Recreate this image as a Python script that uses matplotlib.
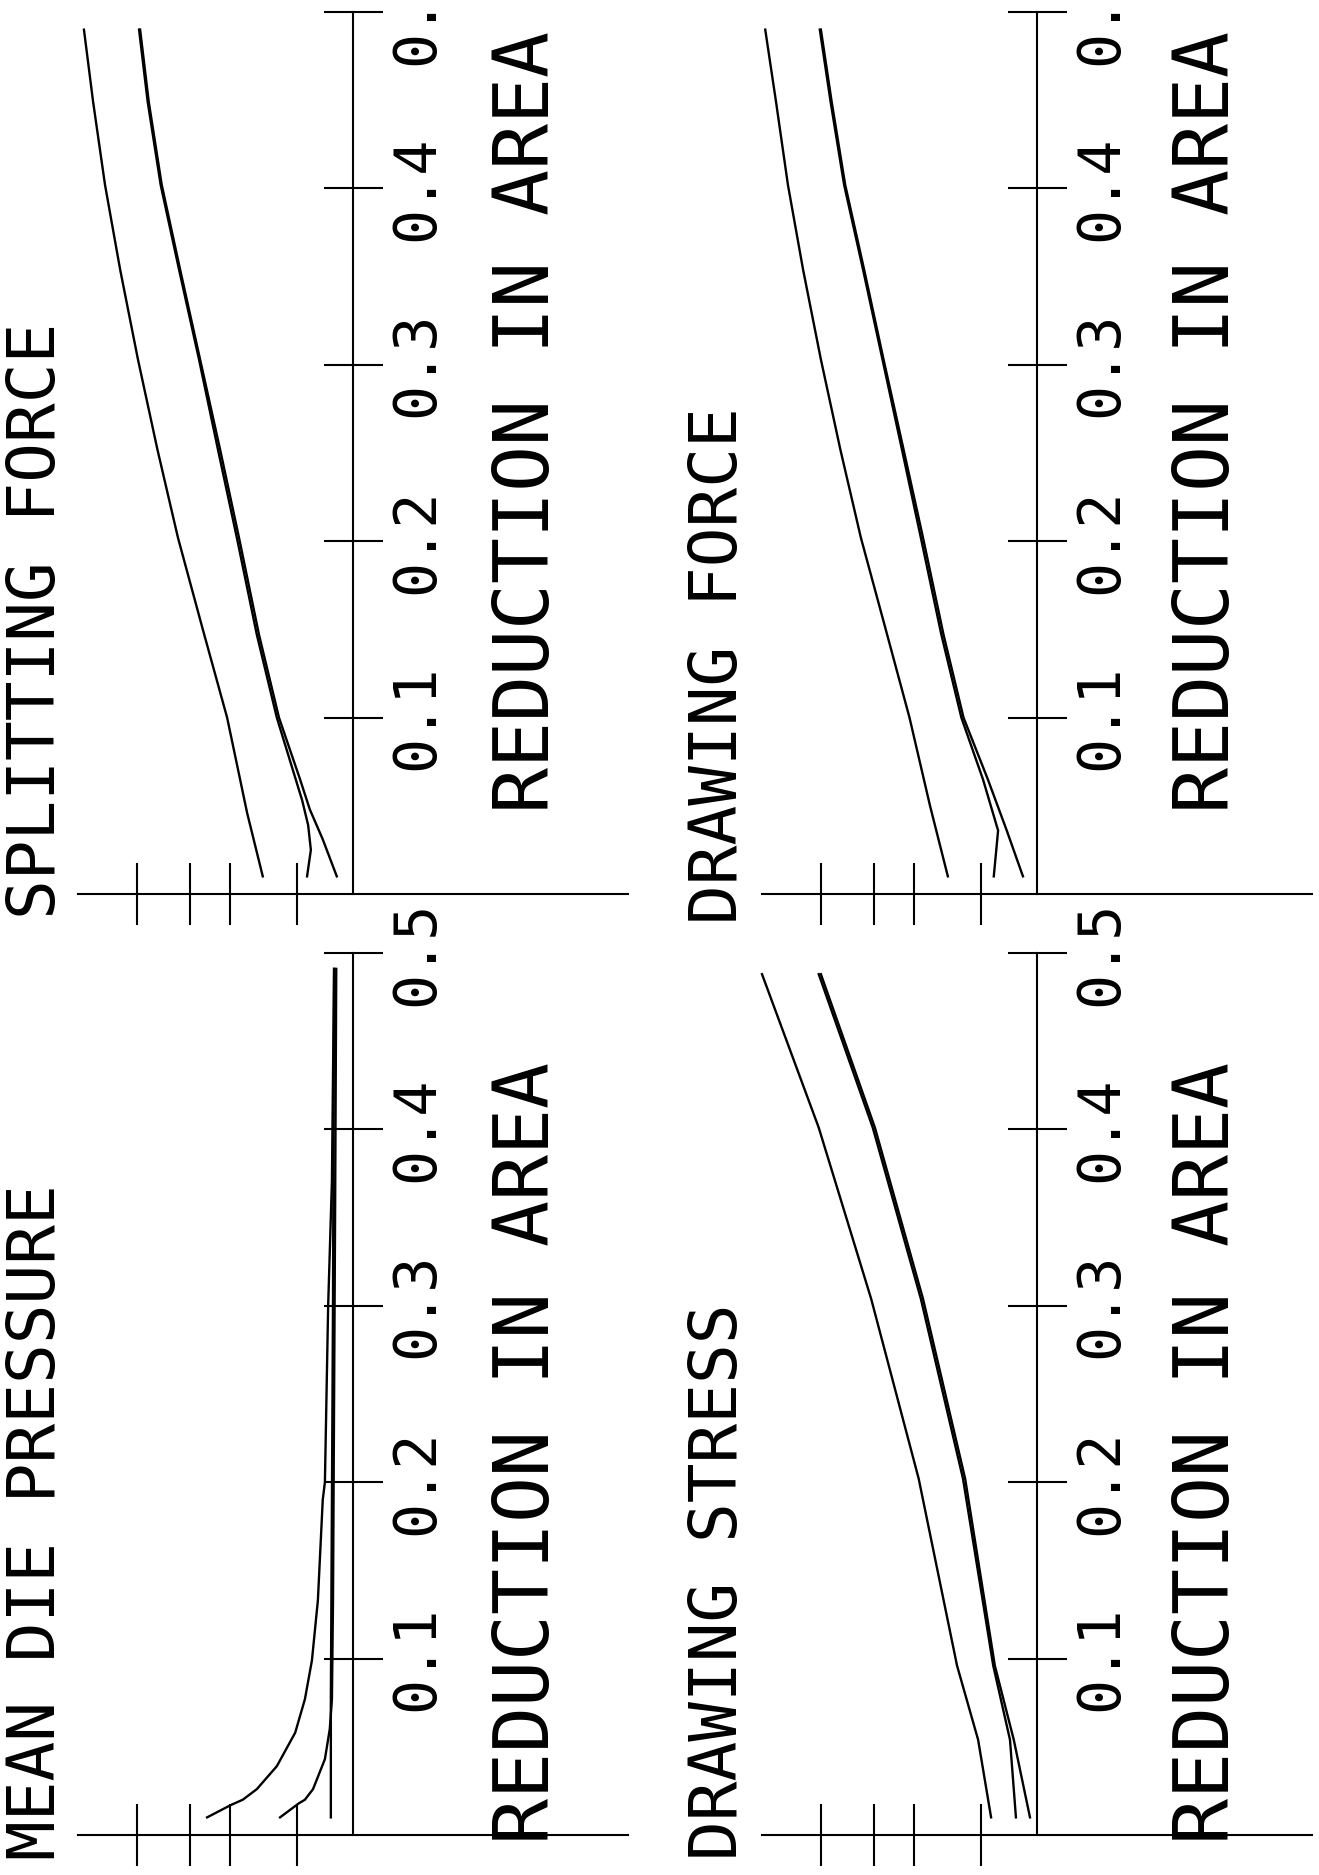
import matplotlib
matplotlib.use("Agg")
import matplotlib.pyplot as plt

plt.rcParams['font.family'] = ['DejaVu Sans Mono', 'DejaVu Sans']

W, H, DPI = 1319, 1875, 100

#############
##Axis data##
#############
r_ticks = [0.1, 0.2, 0.3, 0.4, 0.5]
r_ticklabels = ["0.1", "0.2", "0.3", "0.4", "0.5"]
#unlabelled ordinate ticks, arbitrary units
v_ticks = [1.04, 2.28, 3.02, 4.0]
v_half = 5.09

###############
##Curve data ##
###############
#Mean die pressure
mdp_a_v = [2.70, 2.26, 2.04, 1.78, 1.41, 1.07, 0.89, 0.76, 0.65, 0.56, 0.52, 0.46, 0.39, 0.35]
mdp_a_r = [0.010, 0.017, 0.020, 0.026, 0.039, 0.058, 0.077, 0.099, 0.133, 0.190, 0.200, 0.300, 0.371, 0.491]
mdp_b_v = [1.35, 1.00, 0.89, 0.74, 0.52, 0.43, 0.39, 0.37, 0.35, 0.33, 0.31]
mdp_b_r = [0.010, 0.018, 0.020, 0.026, 0.043, 0.060, 0.077, 0.133, 0.247, 0.360, 0.491]
mdp_c_v = [0.41, 0.41, 0.39, 0.37, 0.35]
mdp_c_r = [0.010, 0.077, 0.190, 0.303, 0.491]

#Splitting force
sf_a_v = [1.67, 1.96, 2.33, 2.78, 3.24, 3.62, 3.98, 4.31, 4.59, 4.81, 4.98]
sf_a_r = [0.010, 0.046, 0.100, 0.150, 0.202, 0.252, 0.303, 0.354, 0.402, 0.449, 0.490]
sf_b_v = [0.85, 0.78, 0.83, 0.94, 1.41, 1.78, 2.15, 2.50, 2.85, 3.22, 3.56, 3.80, 3.96]
sf_b_r = [0.010, 0.025, 0.039, 0.053, 0.100, 0.147, 0.202, 0.252, 0.303, 0.354, 0.402, 0.449, 0.490]
sf_c_v = [0.30, 0.56, 0.80, 0.98, 1.37, 1.74, 2.11, 2.46, 2.83, 3.20, 3.54, 3.78, 3.94]
sf_c_r = [0.010, 0.031, 0.048, 0.065, 0.100, 0.147, 0.202, 0.252, 0.303, 0.354, 0.402, 0.449, 0.490]

#Drawing stress
ds_a_v = [0.85, 1.09, 1.48, 2.19, 3.07, 4.04, 5.09]
ds_a_r = [0.010, 0.054, 0.096, 0.202, 0.304, 0.401, 0.488]
ds_b_v = [0.39, 0.50, 0.81, 1.37, 2.15, 3.04, 4.04]
ds_b_r = [0.010, 0.054, 0.096, 0.202, 0.304, 0.401, 0.488]
ds_c_v = [0.13, 0.43, 0.78, 1.33, 2.11, 3.00, 4.00]
ds_c_r = [0.010, 0.054, 0.096, 0.202, 0.304, 0.401, 0.488]

#Drawing force
df_a_v = [1.65, 1.98, 2.36, 2.80, 3.26, 3.64, 4.00, 4.33, 4.61, 4.83, 5.03]
df_a_r = [0.010, 0.050, 0.100, 0.150, 0.202, 0.252, 0.303, 0.354, 0.402, 0.449, 0.490]
df_b_v = [0.80, 0.72, 1.00, 1.40, 1.77, 2.15, 2.50, 2.86, 3.22, 3.57, 3.82, 4.02]
df_b_r = [0.010, 0.036, 0.065, 0.100, 0.147, 0.202, 0.252, 0.303, 0.354, 0.402, 0.449, 0.490]
df_c_v = [0.26, 0.56, 0.91, 1.36, 1.73, 2.11, 2.47, 2.84, 3.20, 3.55, 3.80, 4.00]
df_c_r = [0.010, 0.036, 0.065, 0.100, 0.147, 0.202, 0.252, 0.303, 0.354, 0.402, 0.449, 0.490]

##########
##Layout##
##########
#pixel positions: left edge of ordinate line, y of r=0.5, title x, title end y, xlabel x, xlabel centre y
panels = [
    ("MEAN DIE PRESSURE", 78, 953, 37, 1184, 528, 1453,
     [(mdp_a_v, mdp_a_r), (mdp_b_v, mdp_b_r), (mdp_c_v, mdp_c_r)]),
    ("SPLITTING FORCE", 78, 12, 37, 323, 528, 422,
     [(sf_a_v, sf_a_r), (sf_b_v, sf_b_r), (sf_c_v, sf_c_r)]),
    ("DRAWING STRESS", 762, 953, 719, 1304, 1208, 1453,
     [(ds_a_v, ds_a_r), (ds_b_v, ds_b_r), (ds_c_v, ds_c_r)]),
    ("DRAWING FORCE", 762, 12, 719, 407, 1208, 422,
     [(df_a_v, df_a_r), (df_b_v, df_b_r), (df_c_v, df_c_r)]),
]

axis_lw = 1.5
curve_lw = 1.7
px = 72. / DPI  #points per pixel

fig = plt.figure(figsize=(W / DPI, H / DPI), dpi=DPI)

for title, left, top, tx, ty, lx, ly, curves in panels:
    ax = fig.add_axes([left / W, (H - top - 882) / H, 550 / W, 882 / H])
    ax.set_xlim(v_half, -v_half)
    ax.set_ylim(0, 0.5)
    ax.patch.set_visible(False)
    for side in ["top", "left"]:
        ax.spines[side].set_visible(False)
    ax.spines["bottom"].set_linewidth(axis_lw)
    ax.spines["right"].set_position(("data", 0))
    ax.spines["right"].set_linewidth(axis_lw)

    ax.yaxis.tick_right()
    ax.set_yticks(r_ticks)
    ax.set_yticklabels(r_ticklabels, rotation=90, va="center")
    ax.tick_params(axis="y", direction="inout", length=59 * px, width=axis_lw,
                   pad=6 * px, labelsize=42)
    ax.set_xticks(v_ticks)
    ax.tick_params(axis="x", direction="inout", length=62 * px, width=axis_lw,
                   labelbottom=False)

    for v, r in curves:
        ax.plot(v, r, color="black", lw=curve_lw, clip_on=False)

    fig.text(tx / W, 1 - ty / H, title, rotation=90, rotation_mode="anchor",
             ha="right", va="center", fontsize=47.5)
    fig.text(lx / W, 1 - ly / H, "REDUCTION IN AREA", rotation=90, rotation_mode="anchor",
             ha="center", va="center", fontsize=55)

plt.savefig("out.png", dpi=DPI)
